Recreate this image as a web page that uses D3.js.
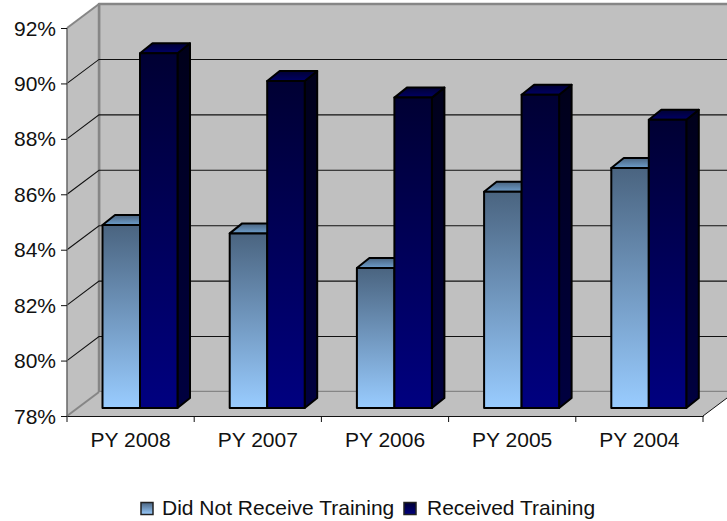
<!DOCTYPE html>
<html><head><meta charset="utf-8">
<script src="https://cdn.jsdelivr.net/npm/d3@7"></script>
<style>html,body{margin:0;background:#fff}svg{display:block}text{font-family:"Liberation Sans",Arial,sans-serif;fill:#111}</style>
</head><body><script>
const categories=["PY 2008","PY 2007","PY 2006","PY 2005","PY 2004"];
const didNotReceive=[84.6,84.3,83.05,85.8,86.66];
const received=[90.8,89.8,89.2,89.3,88.4];
const yTicks=[78,80,82,84,86,88,90,92];
const seriesNames=["Did Not Receive Training","Received Training"];

const W=727,H=521;
const svg=d3.select("body").append("svg").attr("width",W).attr("height",H);
const y=d3.scaleLinear().domain([78,92]).range([416,28]);
const x=d3.scaleBand().domain(categories).range([67,703]);
const dx=32,dy=-24;
const defs=svg.append("defs");
function grad(id,top,bot){const g=defs.append("linearGradient").attr("id",id).attr("x1",0).attr("y1",0).attr("x2",0).attr("y2",1);
 g.append("stop").attr("offset",0).attr("stop-color",top);g.append("stop").attr("offset",1).attr("stop-color",bot);}
grad("lf","#4a6480","#99ccff");grad("ls","#25324a","#4c6680");grad("lt","#4a6480","#6e9ecb");
grad("df","#000033","#000080");grad("ds","#00001a","#000040");grad("dt","#000033","#000066");

const poly=(g,pts,fill,stroke,sw)=>g.append("polygon").attr("points",pts.map(p=>p.join(",")).join(" ")).attr("fill",fill).attr("stroke",stroke).attr("stroke-width",sw).attr("stroke-linejoin","round");
const wall=svg.append("g");
const x0=x.range()[0],x1=x.range()[1],y0=y(78),yT=y(92);
poly(wall,[[x0+dx,yT+dy],[W+2,yT+dy],[W+2,y0+dy],[x0+dx,y0+dy]],"#c0c0c0","#868686",2.5);
poly(wall,[[x0,yT],[x0+dx,yT+dy],[x0+dx,y0+dy],[x0,y0]],"#c0c0c0","none",0);
poly(wall,[[x0,y0],[x0+dx,y0+dy],[W+2,y0+dy],[x1+dx,y0+dy],[x1,y0]],"#c0c0c0","none",0);
wall.append("line").attr("x1",x0).attr("y1",y0).attr("x2",x0+dx).attr("y2",y0+dy).attr("stroke","#868686").attr("stroke-width",2);
wall.append("line").attr("x1",x0).attr("y1",yT).attr("x2",x0+dx).attr("y2",yT+dy).attr("stroke","#868686").attr("stroke-width",2);
wall.append("line").attr("x1",x0+dx).attr("y1",yT+dy).attr("x2",x0+dx).attr("y2",y0+dy).attr("stroke","#868686").attr("stroke-width",2.5);
wall.append("line").attr("x1",x1).attr("y1",y0).attr("x2",x1+dx).attr("y2",y0+dy).attr("stroke","#111").attr("stroke-width",1);
yTicks.slice(1,-1).forEach(t=>{
 wall.append("polyline").attr("points",`${x0},${y(t)} ${x0+dx},${y(t)+dy} ${W},${y(t)+dy}`).attr("fill","none").attr("stroke","#111").attr("stroke-width",1.1);
});
wall.append("line").attr("x1",x0).attr("y1",yT).attr("x2",x0).attr("y2",y0).attr("stroke","#666").attr("stroke-width",1.5);

const yAxis=d3.axisLeft(y).tickValues(yTicks).tickFormat(d=>d+"%").tickSize(6).tickPadding(5);
const gy=svg.append("g").attr("transform",`translate(${x0},0)`).call(yAxis);
gy.select(".domain").remove();
gy.selectAll("text").attr("font-size",21).attr("dy","0.34em");
gy.selectAll("line").attr("stroke","#111");
const xAxis=d3.axisBottom(x).tickSize(0).tickPadding(16);
const gx=svg.append("g").attr("transform",`translate(0,${y0})`).call(xAxis);
gx.select(".domain").attr("stroke","#111").attr("stroke-width",1.2);
gx.selectAll("text").attr("font-size",21);
const edges=categories.map(c=>x(c)).concat([x1]);
gx.selectAll(".edge").data(edges).enter().append("line").attr("class","edge").attr("x1",d=>d).attr("x2",d=>d).attr("y1",0).attr("y2",6).attr("stroke","#111");

const bars=svg.append("g");
const bw=37.5, inset=35.5, bdx=12.5, bdy=-10, base=8;
const yb=v=>y(v)-base;
function bar(g,xl,v,f,s,t){
 const top=yb(v),bot=yb(78);
 poly(g,[[xl+bw,top],[xl+bw+bdx,top+bdy],[xl+bw+bdx,bot+bdy],[xl+bw,bot]],`url(#${s})`,"#000",2);
 poly(g,[[xl,top],[xl+bdx,top+bdy],[xl+bw+bdx,top+bdy],[xl+bw,top]],`url(#${t})`,"#000",2);
 poly(g,[[xl,top],[xl+bw,top],[xl+bw,bot],[xl,bot]],`url(#${f})`,"#000",2);
}
categories.forEach((c,i)=>{
 const xl=x(c)+inset;
 bar(bars,xl,didNotReceive[i],"lf","ls","lt");
 bar(bars,xl+bw,received[i],"df","ds","dt");
});

const legendX=[141,404];
const textX=[162,427];
const leg=svg.append("g");
seriesNames.forEach((n,i)=>{
 leg.append("rect").attr("x",legendX[i]).attr("y",502.5).attr("width",12).attr("height",12).attr("fill",i?"url(#df)":"url(#lf)").attr("stroke","#222").attr("stroke-width",1.5);
 leg.append("text").attr("x",textX[i]).attr("y",514.5).attr("font-size",21).text(n);
});
</script></body></html>
